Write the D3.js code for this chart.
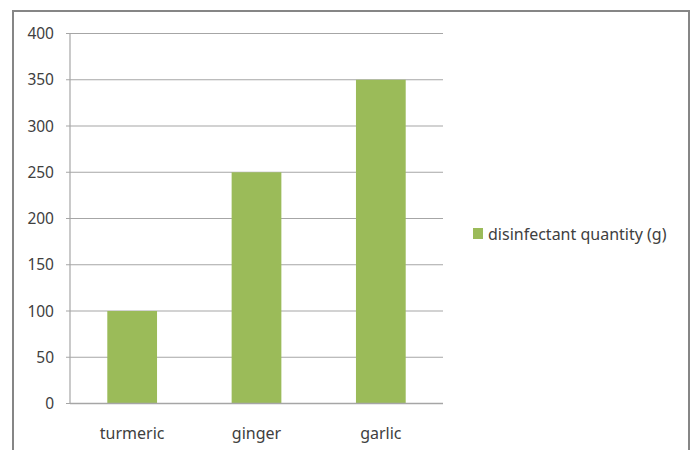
<!DOCTYPE html>
<html>
<head>
<script src="https://d3js.org/d3.v7.min.js"></script>
<style>
body { margin: 0; background: #fff; }
svg { font-family: "Noto Sans", "Open Sans", sans-serif; }
.grid line { stroke: #a6a6a6; stroke-width: 1.2; }
.tick-label { font-size: 15.5px; fill: #404040; }
.cat-label { font-size: 16px; fill: #404040; }
</style>
</head>
<body>
<div id="root"></div>
<script>
var categories = ["turmeric", "ginger", "garlic"];
var values = [100, 250, 350];
var yTicks = [0, 50, 100, 150, 200, 250, 300, 350, 400];
var seriesName = "disinfectant quantity (g)";

var W = 692, H = 450;
var plot = {left: 70, right: 443, top: 33.5, bottom: 403.5};

var svg = d3.select("#root").append("svg")
  .attr("width", W)
  .attr("height", H);

// outer frame (bottom edge runs off the picture)
svg.append("rect")
  .attr("x", 13).attr("y", 11)
  .attr("width", 676).attr("height", 480)
  .attr("fill", "#fff")
  .attr("stroke", "#868686")
  .attr("stroke-width", 2);

var x = d3.scaleBand()
  .domain(categories)
  .range([plot.left, plot.right])
  .paddingInner(0.6)
  .paddingOuter(0.3);

var y = d3.scaleLinear()
  .domain([0, 400])
  .range([plot.bottom, plot.top]);

// gridlines
svg.append("g")
  .attr("class", "grid")
  .selectAll("line")
  .data(yTicks).enter()
  .append("line")
  .attr("x1", plot.left - 4)
  .attr("x2", plot.right)
  .attr("y1", d => y(d))
  .attr("y2", d => y(d));

// y axis line
svg.append("line")
  .attr("x1", plot.left).attr("x2", plot.left)
  .attr("y1", plot.top).attr("y2", plot.bottom)
  .attr("stroke", "#a6a6a6")
  .attr("stroke-width", 1.2);

// y labels
svg.append("g")
  .selectAll("text")
  .data(yTicks).enter()
  .append("text")
  .attr("class", "tick-label")
  .attr("x", 54)
  .attr("y", d => y(d) + 5.5)
  .attr("text-anchor", "end")
  .text(d => d);

// bars
svg.append("g")
  .selectAll("rect")
  .data(values).enter()
  .append("rect")
  .attr("x", (d, i) => x(categories[i]))
  .attr("y", d => y(d))
  .attr("width", x.bandwidth())
  .attr("height", d => y(0) - y(d))
  .attr("fill", "#9bbb59");

// x axis line
svg.append("line")
  .attr("x1", plot.left).attr("x2", plot.right)
  .attr("y1", plot.bottom).attr("y2", plot.bottom)
  .attr("stroke", "#a6a6a6")
  .attr("stroke-width", 1.5);

// x labels
svg.append("g")
  .selectAll("text")
  .data(categories).enter()
  .append("text")
  .attr("class", "cat-label")
  .attr("x", d => x(d) + x.bandwidth() / 2)
  .attr("y", 439)
  .attr("text-anchor", "middle")
  .text(d => d);

// legend
var legend = svg.append("g").attr("transform", "translate(473, 228)");
legend.append("rect")
  .attr("width", 10).attr("height", 11)
  .attr("fill", "#9bbb59");
legend.append("text")
  .attr("class", "cat-label")
  .attr("x", 15)
  .attr("y", 11.5)
  .text(seriesName);
</script>
</body>
</html>
